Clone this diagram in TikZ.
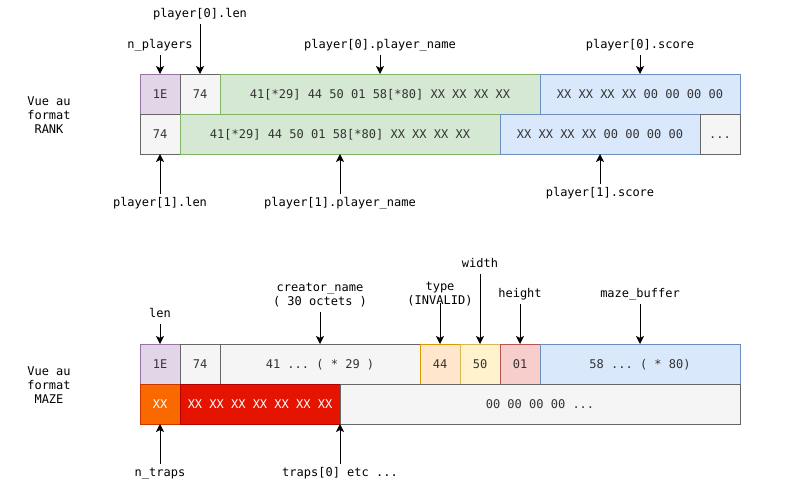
\documentclass[tikz,border=0pt]{standalone}
\usepackage{fontspec}
\setmonofont{DejaVu Sans Mono}
\usetikzlibrary{arrows.meta,positioning}

\definecolor{grayfill}{HTML}{F5F5F5}
\definecolor{grayline}{HTML}{666666}
\definecolor{celltext}{HTML}{333333}
\definecolor{purplefill}{HTML}{E1D5E7}
\definecolor{purpleline}{HTML}{9673A6}
\definecolor{greenfill}{HTML}{D5E8D4}
\definecolor{greenline}{HTML}{82B366}
\definecolor{bluefill}{HTML}{DAE8FC}
\definecolor{blueline}{HTML}{6C8EBF}
\definecolor{peachfill}{HTML}{FFE6CC}
\definecolor{peachline}{HTML}{D79B00}
\definecolor{yellowfill}{HTML}{FFF2CC}
\definecolor{yellowline}{HTML}{D6B656}
\definecolor{pinkfill}{HTML}{F8CECC}
\definecolor{pinkline}{HTML}{B85450}
\definecolor{orangefill}{HTML}{FA6800}
\definecolor{orangeline}{HTML}{C73500}
\definecolor{redfill}{HTML}{E51400}
\definecolor{redline}{HTML}{B20000}

\begin{document}
\begin{tikzpicture}[x=1pt,y=-1pt,
    every node/.style={font=\ttfamily\fontsize{12}{14}\selectfont},
    cell/.style={line width=1pt,minimum height=40pt,inner sep=0pt,outer sep=0pt,
        text=celltext,text height=8.75pt,text depth=0pt},
    graycell/.style={cell,draw=grayline,fill=grayfill},
    purplecell/.style={cell,draw=purpleline,fill=purplefill},
    greencell/.style={cell,draw=greenline,fill=greenfill},
    bluecell/.style={cell,draw=blueline,fill=bluefill},
    peachcell/.style={cell,draw=peachline,fill=peachfill},
    yellowcell/.style={cell,draw=yellowline,fill=yellowfill},
    pinkcell/.style={cell,draw=pinkline,fill=pinkfill},
    orangecell/.style={cell,draw=orangeline,fill=orangefill,text=white},
    redcell/.style={cell,draw=redline,fill=redfill,text=white},
    lbl/.style={text height=9pt,text depth=3pt,inner sep=3pt,align=center},
    arr/.style={-{Stealth[length=8pt,width=8pt,inset=2pt]},line width=1pt}]
    \useasboundingbox (0,0) rectangle (811,485);

    % format RANK
    \node[align=center] (vuerank) at (49,115) {Vue au\\format\\RANK};

    \node[purplecell,minimum width=40pt] (r0n) at (160,94) {1E};
    \node[graycell,minimum width=40pt] (r0len) at (200,94) {74};
    \node[greencell,minimum width=320pt] (r0name) at (380,94) {41[*29] 44 50 01 58[*80] XX XX XX XX};
    \node[bluecell,minimum width=200pt] (r0score) at (640,94) {XX XX XX XX 00 00 00 00};

    \node[graycell,minimum width=40pt] (r1len) at (160,134) {74};
    \node[greencell,minimum width=320pt] (r1name) at (340,134) {41[*29] 44 50 01 58[*80] XX XX XX XX};
    \node[bluecell,minimum width=200pt] (r1score) at (600,134) {XX XX XX XX 00 00 00 00};
    \node[graycell,minimum width=40pt] (r1more) at (720,134) {...};

    \node[lbl,anchor=south] (lnplayers) at (160,55) {n\_players};
    \node[lbl,anchor=south] (lr0len) at (200,24) {player[0].len};
    \node[lbl,anchor=south] (lr0name) at (380,55) {player[0].player\_name};
    \node[lbl,anchor=south] (lr0score) at (640,55) {player[0].score};
    \node[lbl,anchor=north] (lr1len) at (160,194) {player[1].len};
    \node[lbl,anchor=north] (lr1name) at (340,194) {player[1].player\_name};
    \node[lbl,anchor=north] (lr1score) at (600,184) {player[1].score};

    \draw[arr] (lnplayers.south) -- (r0n.north);
    \draw[arr] (lr0len.south) -- (r0len.north);
    \draw[arr] (lr0name.south) -- (r0name.north);
    \draw[arr] (lr0score.south) -- (r0score.north);
    \draw[arr] (lr1len.north) -- (r1len.south);
    \draw[arr] (lr1name.north) -- (r1name.south);
    \draw[arr] (lr1score.north) -- (r1score.south);

    % format MAZE
    \node[align=center] (vuemaze) at (49,385) {Vue au\\format\\MAZE};

    \node[purplecell,minimum width=40pt] (mlen) at (160,364) {1E};
    \node[graycell,minimum width=40pt] (mbyte) at (200,364) {74};
    \node[graycell,minimum width=200pt] (mname) at (320,364) {41 ... ( * 29 )};
    \node[peachcell,minimum width=40pt] (mtype) at (440,364) {44};
    \node[yellowcell,minimum width=40pt] (mwidth) at (480,364) {50};
    \node[pinkcell,minimum width=40pt] (mheight) at (520,364) {01};
    \node[bluecell,minimum width=200pt] (mbuf) at (640,364) {58 ... ( * 80)};

    \node[orangecell,minimum width=40pt] (mntraps) at (160,404) {XX};
    \node[redcell,minimum width=160pt] (mtraps) at (260,404) {XX XX XX XX XX XX XX};
    \node[graycell,minimum width=400pt] (mrest) at (540,404) {00 00 00 00 ...};

    \node[lbl,anchor=south] (llen) at (160,324) {len};
    \node[lbl,anchor=south] (lcreator) at (320,312) {creator\_name\\( 30 octets )};
    \node[lbl,anchor=south] (ltype) at (440,311) {type\\(INVALID)};
    \node[lbl,anchor=south] (lwidth) at (480,274) {width};
    \node[lbl,anchor=south] (lheight) at (520,304) {height};
    \node[lbl,anchor=south] (lbuf) at (640,304) {maze\_buffer};
    \node[lbl,anchor=north] (lntraps) at (160,464) {n\_traps};
    \node[lbl,anchor=north] (ltraps) at (340,464) {traps[0] etc ...};

    \draw[arr] (llen.south) -- (mlen.north);
    \draw[arr] (lcreator.south) -- (mname.north);
    \draw[arr] ([yshift=8pt]ltype.south) -- (mtype.north);
    \draw[arr] (lwidth.south) -- (mwidth.north);
    \draw[arr] (lheight.south) -- (mheight.north);
    \draw[arr] (lbuf.south) -- (mbuf.north);
    \draw[arr] (lntraps.north) -- (mntraps.south);
    \draw[arr] (ltraps.north) -- (mtraps.south east);
\end{tikzpicture}
\end{document}
